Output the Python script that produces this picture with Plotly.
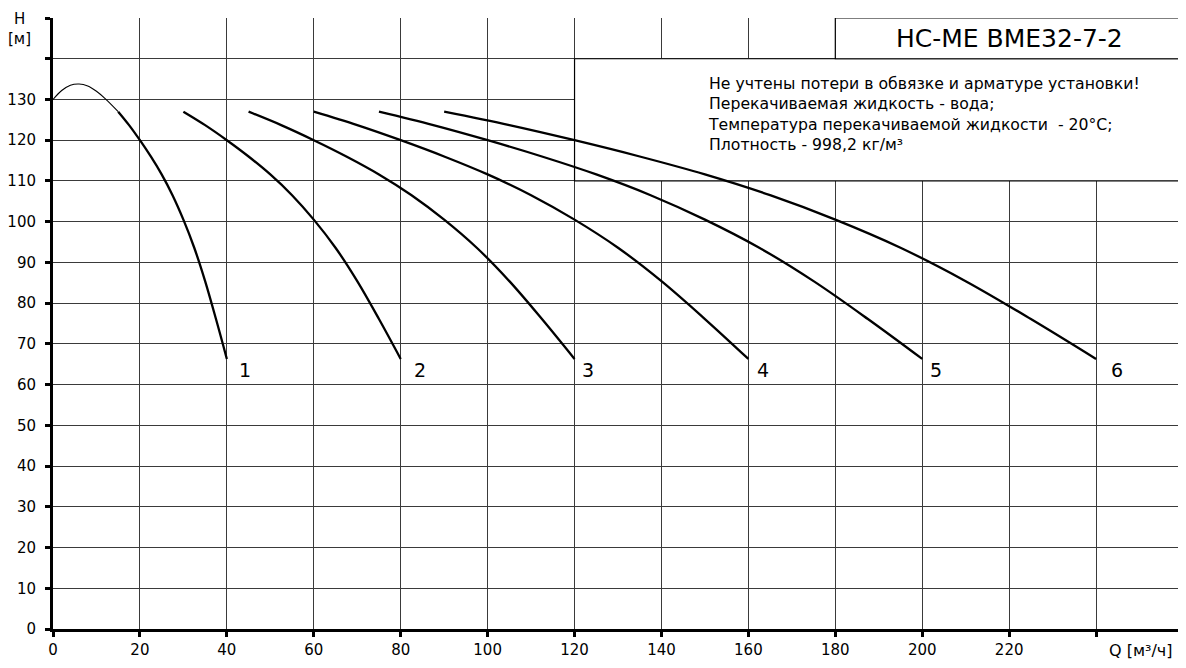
import plotly.graph_objects as go

# ---------------- data ----------------
# curve 1: thin rising part (left of the working range)
q1_thin = [0, 2, 4, 6, 8, 10, 12, 15]
h1_thin = [130.0, 132.2, 133.5, 133.8, 133.3, 132.0, 130.2, 127.0]

# working parts of curves 1..6  (Q [m3/h], H [m])
q1 = [15, 17.5, 20, 22.5, 25, 27.5, 30, 32.5, 35, 37.5, 40]
h1 = [127.0, 123.7, 120.0, 116.0, 111.6, 106.5, 100.5, 93.6, 85.4, 76.1, 66.3]

q2 = [30, 35, 40, 45, 50, 55, 60, 65, 70, 75, 80]
h2 = [127.0, 123.7, 120.0, 116.0, 111.6, 106.5, 100.5, 93.6, 85.4, 76.1, 66.3]

q3 = [45, 52.5, 60, 67.5, 75, 82.5, 90, 97.5, 105, 112.5, 120]
h3 = [127.0, 123.7, 120.0, 116.0, 111.6, 106.5, 100.5, 93.6, 85.4, 76.1, 66.3]

q4 = [60, 70, 80, 90, 100, 110, 120, 130, 140, 150, 160]
h4 = [127.0, 123.7, 120.0, 116.0, 111.6, 106.5, 100.5, 93.6, 85.4, 76.1, 66.3]

q5 = [75, 87.5, 100, 112.5, 125, 137.5, 150, 162.5, 175, 187.5, 200]
h5 = [127.0, 123.7, 120.0, 116.0, 111.6, 106.5, 100.5, 93.6, 85.4, 76.1, 66.3]

q6 = [90, 105, 120, 135, 150, 165, 180, 195, 210, 225, 240]
h6 = [127.0, 123.7, 120.0, 116.0, 111.6, 106.5, 100.5, 93.6, 85.4, 76.1, 66.3]

curve_names = ["1", "2", "3", "4", "5", "6"]
label_q = [42.3, 82.5, 121.2, 161.5, 201.3, 242.9]
label_h = 63.5

x_tickvals = [0, 20, 40, 60, 80, 100, 120, 140, 160, 180, 200, 220, 240, 260]
x_ticktext = ["0", "20", "40", "60", "80", "100", "120", "140", "160", "180", "200", "220", "", ""]
y_tickvals = [0, 10, 20, 30, 40, 50, 60, 70, 80, 90, 100, 110, 120, 130, 140, 150]
y_ticktext = ["0", "10", "20", "30", "40", "50", "60", "70", "80", "90", "100", "110", "120", "130", "", ""]

title_text = "НС-МЕ ВМЕ32-7-2"
note_lines = [
    "Не учтены потери в обвязке и арматуре установки!",
    "Перекачиваемая жидкость - вода;",
    "Температура перекачиваемой жидкости  - 20°С;",
    "Плотность - 998,2 кг/м³",
]

FONT = "DejaVu Sans"

# ---------------- figure ----------------
fig = go.Figure()

fig.add_trace(go.Scatter(x=q1_thin, y=h1_thin, mode="lines",
                         line=dict(color="black", width=1.1, shape="spline"),
                         showlegend=False, hoverinfo="skip"))

for qs, hs in [(q1, h1), (q2, h2), (q3, h3), (q4, h4), (q5, h5), (q6, h6)]:
    fig.add_trace(go.Scatter(x=qs, y=hs, mode="lines",
                             line=dict(color="black", width=2.3, shape="spline"),
                             showlegend=False, hoverinfo="skip"))

# boxes (drawn between grid and traces)
fig.add_shape(type="rect", x0=120, x1=260, y0=110, y1=140, xref="x", yref="y",
              line=dict(color="black", width=1.2), fillcolor="white", layer="between")
fig.add_shape(type="rect", x0=180, x1=260, y0=140, y1=150, xref="x", yref="y",
              line=dict(color="black", width=1.2), fillcolor="white", layer="between")

annotations = []
for name, lq in zip(curve_names, label_q):
    annotations.append(dict(x=lq, y=label_h, xref="x", yref="y", text=name,
                            showarrow=False, xanchor="left", yanchor="middle",
                            font=dict(family=FONT, size=19, color="black")))

annotations.append(dict(x=220, y=145, xref="x", yref="y", text=title_text,
                        showarrow=False, xanchor="center", yanchor="middle",
                        font=dict(family=FONT, size=25, color="black")))

annotations.append(dict(x=150.3, y=126.5, xref="x", yref="y",
                        text="<br>".join(note_lines), align="left",
                        showarrow=False, xanchor="left", yanchor="middle",
                        font=dict(family=FONT, size=15.7, color="black")))

annotations.append(dict(x=-0.0295, y=0.999, xref="paper", yref="paper", text="H",
                        showarrow=False, xanchor="center", yanchor="middle",
                        font=dict(family=FONT, size=15, color="black")))
annotations.append(dict(x=-0.0295, y=0.9655, xref="paper", yref="paper", text="[м]",
                        showarrow=False, xanchor="center", yanchor="middle",
                        font=dict(family=FONT, size=15, color="black")))
annotations.append(dict(x=242.5, y=-0.036, xref="x", yref="paper", text="Q [м³/ч]",
                        showarrow=False, xanchor="left", yanchor="middle",
                        font=dict(family=FONT, size=16, color="black")))

fig.update_layout(
    width=1178, height=660,
    margin=dict(l=45, r=3, t=10, b=39, autoexpand=False),
    paper_bgcolor="white", plot_bgcolor="white",
    showlegend=False,
    annotations=annotations,
    font=dict(family=FONT, size=15, color="black"),
)

fig.update_xaxes(range=[0, 260], tickvals=x_tickvals, ticktext=x_ticktext,
                 automargin=False,
                 showline=True, linecolor="black", linewidth=3,
                 ticks="outside", ticklen=5, tickwidth=3, tickcolor="black",
                 showgrid=True, gridcolor="#3a3a3a", gridwidth=1,
                 zeroline=False, tickfont=dict(family=FONT, size=15, color="black"))
fig.update_yaxes(range=[0, 150], tickvals=y_tickvals, ticktext=y_ticktext,
                 automargin=False,
                 showline=True, linecolor="black", linewidth=3,
                 ticks="outside", ticklen=5, tickwidth=3, tickcolor="black",
                 showgrid=True, gridcolor="#3a3a3a", gridwidth=1,
                 zeroline=False, tickfont=dict(family=FONT, size=15, color="black"),
                 ticklabelstandoff=6)

fig.write_html("out.html")
